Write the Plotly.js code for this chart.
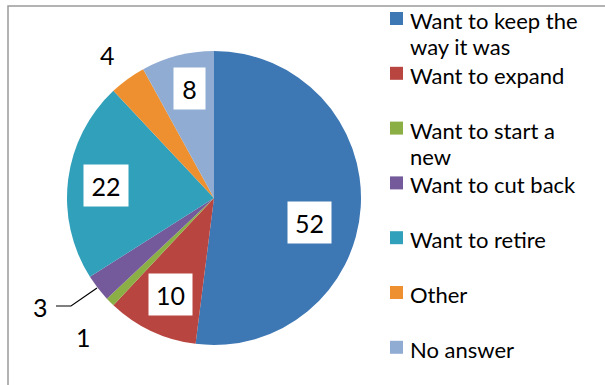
<!DOCTYPE html>
<html>
<head>
<meta charset="utf-8">
<script src="https://cdn.plot.ly/plotly-3.0.1.min.js"></script>
<style>html,body{margin:0;padding:0;background:#fff;}#chart{width:605px;height:385px;}</style>
</head>
<body>
<div id="chart"></div>
<script>
// ---- data ----
const categories = ["Want to keep the way it was", "Want to expand", "Want to start a new", "Want to cut back", "Want to retire", "Other", "No answer"];
const legendLabels = ["Want to keep the<br>way it was", "Want to expand", "Want to start a<br>new", "Want to cut back", "Want to retire", "Other", "No answer"];
const values = [52, 10, 1, 3, 22, 4, 8];

// ---- styles / layout helpers ----
const colors = ["#3D77B4", "#B8453F", "#8BAE45", "#745A9A", "#31A0BA", "#EE902F", "#91ACD2"];
const W = 605, H = 385;
const px = x => x / W;
const py = y => 1 - y / H;
// data-label placement (pixels) and whether the label sits in a white box
const labelPos = [[309, 222], [170, 294], [83, 337], [40, 307], [106, 185], [107, 55], [189, 89]];
const labelBox = [[43, 41], [43, 41], null, null, [44, 41], null, [31, 41]];
const FONT = "Lato, 'Open Sans', sans-serif";

const annotations = [];
values.forEach((v, i) => {
  const [x, y] = labelPos[i];
  const a = {
    xref: "paper", yref: "paper", x: px(x), y: py(y),
    xanchor: "center", yanchor: "middle",
    text: String(v), showarrow: false,
    font: {family: FONT, size: 25, color: "#000"}
  };
  if (labelBox[i]) {
    a.bgcolor = "#ffffff";
    a.width = labelBox[i][0];
    a.height = labelBox[i][1];
    a.borderpad = 0;
  }
  annotations.push(a);
});

// custom legend (Excel-like fixed pitch)
const shapes = [];
const legTop = 12, legPitch = 54.8, sw = 13, lineH = 26;
legendLabels.forEach((t, i) => {
  const y0 = legTop + legPitch * i;
  shapes.push({
    type: "rect", xref: "paper", yref: "paper",
    x0: px(390), x1: px(390 + sw), y0: py(y0), y1: py(y0 + sw),
    fillcolor: colors[i], line: {width: 0}
  });
  t.split("<br>").forEach((line, j) => {
    annotations.push({
      xref: "paper", yref: "paper", x: px(409), y: py(y0 + 8.5 + j * lineH),
      xanchor: "left", yanchor: "middle", align: "left",
      text: line, showarrow: false, borderpad: 0,
      font: {family: FONT, size: 22, color: "#000"}
    });
  });
});

// chart border (left and top edges visible)
shapes.push({
  type: "path", xref: "paper", yref: "paper",
  path: `M ${px(8)},${py(385)} L ${px(8)},${py(6)} L ${px(605)},${py(6)}`,
  line: {color: "#9a9a9a", width: 1.5}
});
// leader line for the "3" label
shapes.push({
  type: "path", xref: "paper", yref: "paper",
  path: `M ${px(56)},${py(306)} L ${px(71)},${py(306)} L ${px(97)},${py(288)}`,
  line: {color: "#000", width: 1.2}
});

const trace = {
  type: "pie",
  labels: categories,
  values: values,
  sort: false,
  direction: "clockwise",
  rotation: 0,
  textinfo: "none",
  hoverinfo: "label+value",
  showlegend: false,
  marker: {colors: colors, line: {width: 0}},
  domain: {x: [px(67), px(361)], y: [py(345), py(51)]}
};

const layout = {
  width: W, height: H,
  margin: {l: 0, r: 0, t: 0, b: 0},
  paper_bgcolor: "#ffffff",
  plot_bgcolor: "#ffffff",
  showlegend: false,
  font: {family: FONT},
  annotations: annotations,
  shapes: shapes
};

Plotly.newPlot("chart", [trace], layout, {displayModeBar: false, staticPlot: true});
</script>
</body>
</html>
